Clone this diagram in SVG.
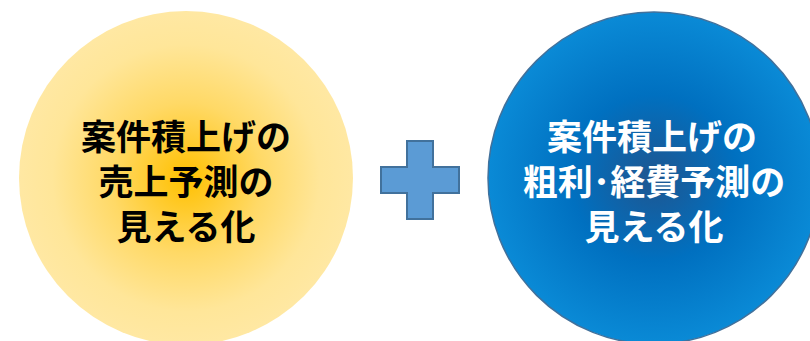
<svg xmlns="http://www.w3.org/2000/svg" width="810" height="341" viewBox="0 0 810 341">
  <defs>
    <radialGradient id="gY" cx="0.5" cy="0.5" r="0.5">
      <stop offset="0" stop-color="#ffc000"/>
      <stop offset="0.45" stop-color="#ffd966"/>
      <stop offset="0.8" stop-color="#ffe699"/>
      <stop offset="1" stop-color="#ffe8a3"/>
    </radialGradient>
    <radialGradient id="gB" cx="0.5" cy="0.5" r="0.5">
      <stop offset="0" stop-color="#1f5690"/>
      <stop offset="0.5" stop-color="#0070c0"/>
      <stop offset="1" stop-color="#0a8ad6"/>
    </radialGradient>
  </defs>
  <style>
    .t { font-family: "Noto Sans CJK JP", "Noto Sans", sans-serif; font-weight: 700; font-size: 35px; text-anchor: middle; }
    .dark { fill: #000000; }
    .light { fill: #ffffff; }
  </style>
  <g id="node-left">
    <circle cx="186" cy="178" r="167" fill="url(#gY)"/>
    <text class="t dark" x="186" y="150">案件積上げの</text>
    <text class="t dark" x="186" y="195">売上予測の</text>
    <text class="t dark" x="186" y="240">見える化</text>
  </g>
  <g id="node-plus">
    <path d="M407,141 H433 V167 H459 V193 H433 V219 H407 V193 H381 V167 H407 Z" fill="#5b9bd5" stroke="#41719c" stroke-width="2"/>
  </g>
  <g id="node-right">
    <circle cx="654" cy="178" r="166" fill="url(#gB)" stroke="#41719c" stroke-width="1.5"/>
    <text class="t light" x="652" y="150">案件積上げの</text>
    <text class="t light" x="654" y="195">粗利･経費予測の</text>
    <text class="t light" x="654" y="240">見える化</text>
  </g>
  <g id="connectors"/>
</svg>
